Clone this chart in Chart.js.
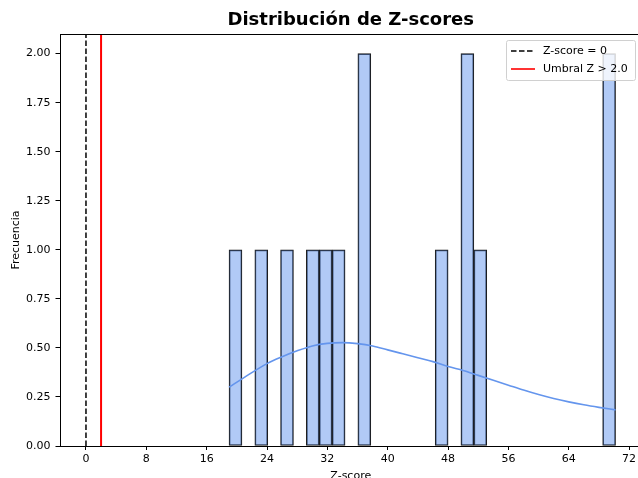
<!DOCTYPE html>
<html>
<head>
<meta charset="utf-8">
<script src="https://cdn.jsdelivr.net/npm/chart.js@4.4.1/dist/chart.umd.min.js"></script>
<style>
  html, body { margin:0; padding:0; background:#fff; overflow:hidden; }
  #wrap { width:644px; height:483px; }
</style>
</head>
<body>
<div id="wrap"><canvas id="c" width="644" height="483"></canvas></div>
<script>
// histogram bins (centers) that hold data, and their counts
const binCenters = [19.82, 23.24, 26.65, 30.07, 31.78, 33.49, 36.90, 47.15, 50.56, 52.27, 69.35];
const binCounts  = [1, 1, 1, 1, 1, 1, 2, 1, 2, 1, 2];

// kde curve
const kdeX = [18.97, 21, 24, 26, 28, 30, 32, 34, 36, 38, 40, 42, 44, 46, 48, 50, 52, 54, 56, 58, 60, 62, 64, 66, 68, 70.2];
const kdeY = [0.30, 0.35, 0.42, 0.455, 0.485, 0.51, 0.523, 0.527, 0.522, 0.51, 0.49, 0.47, 0.45, 0.43, 0.405, 0.385, 0.36, 0.335, 0.31, 0.285, 0.262, 0.242, 0.225, 0.21, 0.197, 0.184];

// reference lines
const zeroLine = 0;
const threshold = 2.0;

const xTicks = [0, 8, 16, 24, 32, 40, 48, 56, 64, 72];
const yTicks = [0, 0.25, 0.5, 0.75, 1.0, 1.25, 1.5, 1.75, 2.0];
const xRange = [-3.51, 73.71];
const yRange = [0, 2.1];

const FONT = "'DejaVu Sans', sans-serif";

const frame = {
  id:'frame',
  afterDatasetsDraw(chart){
    const {ctx, chartArea:a} = chart;
    ctx.save();
    ctx.strokeStyle = '#000'; ctx.lineWidth = 1;
    ctx.strokeRect(Math.round(a.left)+0.5, Math.round(a.top)+0.5, Math.round(a.right-a.left), Math.round(a.bottom-a.top));
    ctx.restore();
  }
};

// matplotlib-like legend box inside the axes, upper right
const boxLegend = {
  id:'boxLegend',
  afterDraw(chart){
    const {ctx, chartArea:a} = chart;
    const items = [
      {text:'Z-score = 0', color:'#000', dash:[5.5,2.5]},
      {text:'Umbral Z > 2.0', color:'#ff0000', dash:[]}
    ];
    const w = 129, h = 40;
    const x = a.right - 7 - w, y = a.top + 6;
    ctx.save();
    ctx.fillStyle = 'rgba(255,255,255,0.8)';
    ctx.strokeStyle = '#d0d0d0'; ctx.lineWidth = 1;
    ctx.beginPath();
    ctx.roundRect(x+0.5, y+0.5, w, h, 2);
    ctx.fill(); ctx.stroke();
    ctx.font = '11px ' + FONT;
    ctx.textBaseline = 'middle';
    items.forEach((it,i)=>{
      const cy = y + 11 + i*18;
      ctx.strokeStyle = it.color; ctx.lineWidth = 1.6;
      ctx.setLineDash(it.dash);
      ctx.beginPath(); ctx.moveTo(x+5, cy); ctx.lineTo(x+29, cy); ctx.stroke();
      ctx.setLineDash([]);
      ctx.fillStyle = '#000';
      ctx.fillText(it.text, x+37, cy);
    });
    ctx.restore();
  }
};

new Chart(document.getElementById('c'), {
  data:{
    datasets:[
      {
        type:'bar',
        data: binCenters.map((x,i)=>({x, y:binCounts[i]})),
        backgroundColor:'rgba(100,149,237,0.5)',
        borderColor:'#1a1a1a',
        borderWidth:1,
        borderSkipped:false,
        categoryPercentage:1,
        barPercentage:1,
        order:3
      },
      {
        type:'line',
        data: kdeX.map((x,i)=>({x, y:kdeY[i]})),
        borderColor:'#6495ED',
        borderWidth:1.6,
        pointRadius:0,
        cubicInterpolationMode:'monotone',
        order:2
      },
      {
        type:'line',
        data:[{x:zeroLine, y:yRange[0]}, {x:zeroLine, y:yRange[1]}],
        borderColor:'#000',
        borderWidth:1.5,
        borderDash:[5.5,2.5],
        pointRadius:0,
        order:1
      },
      {
        type:'line',
        data:[{x:threshold, y:yRange[0]}, {x:threshold, y:yRange[1]}],
        borderColor:'#ff0000',
        borderWidth:2,
        pointRadius:0,
        order:0
      }
    ]
  },
  options:{
    responsive:false,
    animation:false,
    layout:{padding:{top:0, right:2, bottom:0, left:0}},
    plugins:{
      legend:{display:false},
      tooltip:{enabled:false},
      title:{
        display:true,
        fullSize:false,
        text:'Distribución de Z-scores',
        color:'#000',
        font:{family:FONT, size:18, weight:'bold', lineHeight:1.2},
        padding:{top:9.4, bottom:3}
      }
    },
    scales:{
      x:{
        type:'linear',
        offset:false,
        min:xRange[0], max:xRange[1],
        afterBuildTicks: s=>{ s.ticks = xTicks.map(v=>({value:v})); },
        afterFit: s=>{ s.height = 37; },
        grid:{display:true, offset:false, drawOnChartArea:false, drawTicks:true, tickLength:4, color:'#000'},
        border:{display:false},
        ticks:{color:'#000', padding:3, maxRotation:0, font:{family:FONT, size:11}},
        title:{display:true, text:'Z-score', color:'#000', padding:{top:0, bottom:0}, font:{family:FONT, size:11}}
      },
      y:{
        min:yRange[0], max:yRange[1],
        afterBuildTicks: s=>{ s.ticks = yTicks.map(v=>({value:v})); },
        afterFit: s=>{ s.width = 59.5; },
        grid:{display:true, drawOnChartArea:false, drawTicks:true, tickLength:4, color:'#000'},
        border:{display:false},
        ticks:{color:'#000', padding:5, callback:v=>Number(v).toFixed(2), font:{family:FONT, size:11}},
        title:{display:true, text:'Frecuencia', color:'#000', padding:{top:9.5, bottom:0}, font:{family:FONT, size:11}}
      }
    }
  },
  plugins:[frame, boxLegend]
});
</script>
</body>
</html>
